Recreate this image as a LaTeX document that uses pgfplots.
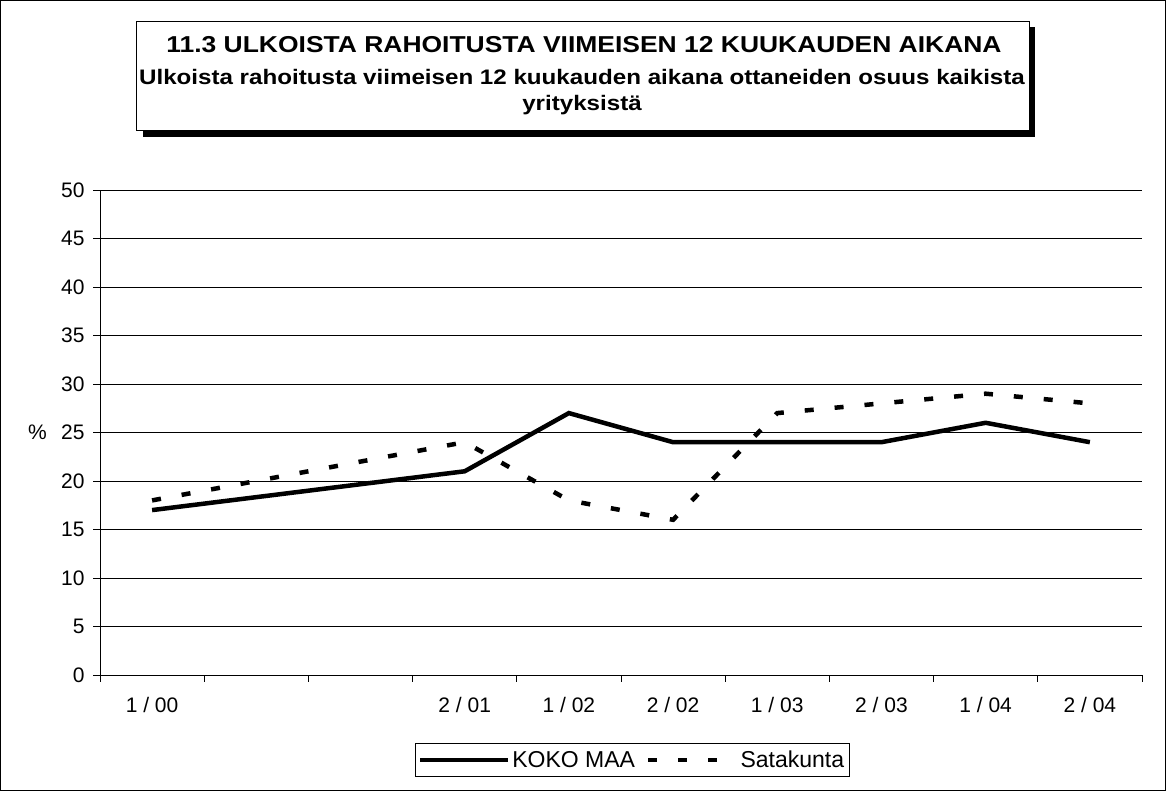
\documentclass[border=0pt]{standalone}
\usepackage{pgfplots}
\pgfplotsset{compat=1.18}
\usepackage{graphicx}
\usepackage{fontspec}
\setmainfont{Liberation Sans}
\begin{document}
\begin{tikzpicture}[x=1bp,y=1bp]
\draw[black, line width=1bp] (0.5,0.5) rectangle (1165.5,790.5);
\begin{axis}[
  at={(100bp,116bp)}, anchor=south west,
  scale only axis, width=1042bp, height=485bp,
  xmin=-0.5, xmax=9.5, ymin=0, ymax=50,
  axis x line=bottom, axis y line=left,
  axis line style={-, black, line width=0.8bp},
  xtick={0,...,9},
  xticklabels={1 / 00,,,2 / 01,1 / 02,2 / 02,1 / 03,2 / 03,1 / 04,2 / 04},
  minor xtick={-0.5,0.5,...,9.5},
  major x tick style={draw=none},
  minor x tick style={black, line width=0.8bp},
  minor tick length=7bp,
  ytick={0,5,...,50},
  y tick style={black, line width=0.8bp},
  major tick length=7bp,
  tick align=outside,
  ymajorgrids, grid style={black, line width=0.8bp},
  tick label style={font=\fontsize{21bp}{24bp}\selectfont},
  /pgf/number format/assume math mode=true,
  xticklabel style={yshift=-12bp},
  yticklabel style={xshift=-5bp},
  ylabel={\%},
  every axis y label/.style={at={(axis description cs:0,0.5)}, anchor=east,
    xshift=-53bp, inner sep=0pt, font=\fontsize{21bp}{24bp}\selectfont},
  legend columns=2,
  legend style={at={(axis description cs:0.5106,-0.175)}, anchor=center,
    draw=black, line width=0.8bp, font=\fontsize{23bp}{26bp}\selectfont,
    inner xsep=3bp, inner ysep=5bp,
    /tikz/every even column/.append style={column sep=9bp}},
  legend cell align=left,
  legend image code/.code={\draw[#1] (0bp,0bp) -- (88bp,0bp);},
]
\addplot[black, line width=4.5bp, line join=miter] coordinates {(0,17) (3,21) (4,27) (5,24) (6,24) (7,24) (8,26) (9,24)};
\addlegendentry{KOKO MAA}
\addplot[black, line width=4.5bp, dash pattern=on 9bp off 21bp] coordinates {(0,18) (3,24) (4,18) (5,16) (6,27) (7,28) (8,29) (9,28)};
\addlegendentry{Satakunta}
\end{axis}
\fill[black] (142.7bp,654.3bp) rectangle (1035bp,764bp);
\draw[black, line width=0.8bp, fill=white] (136.7bp,660.3bp) rectangle (1029bp,770bp);
\node[anchor=base, inner sep=0pt, font=\fontsize{23bp}{26bp}\selectfont\bfseries] at (584bp,738bp)
  {\scalebox{1.15}[1]{11.3 ULKOISTA RAHOITUSTA VIIMEISEN 12 KUUKAUDEN AIKANA}};
\node[anchor=base, inner sep=0pt, font=\fontsize{21bp}{24bp}\selectfont\bfseries] at (582bp,706bp)
  {\scalebox{1.15}[1]{Ulkoista rahoitusta viimeisen 12 kuukauden aikana ottaneiden osuus kaikista}};
\node[anchor=base, inner sep=0pt, font=\fontsize{21bp}{24bp}\selectfont\bfseries] at (582bp,680bp)
  {\scalebox{1.15}[1]{yrityksistä}};
\end{tikzpicture}
\end{document}
